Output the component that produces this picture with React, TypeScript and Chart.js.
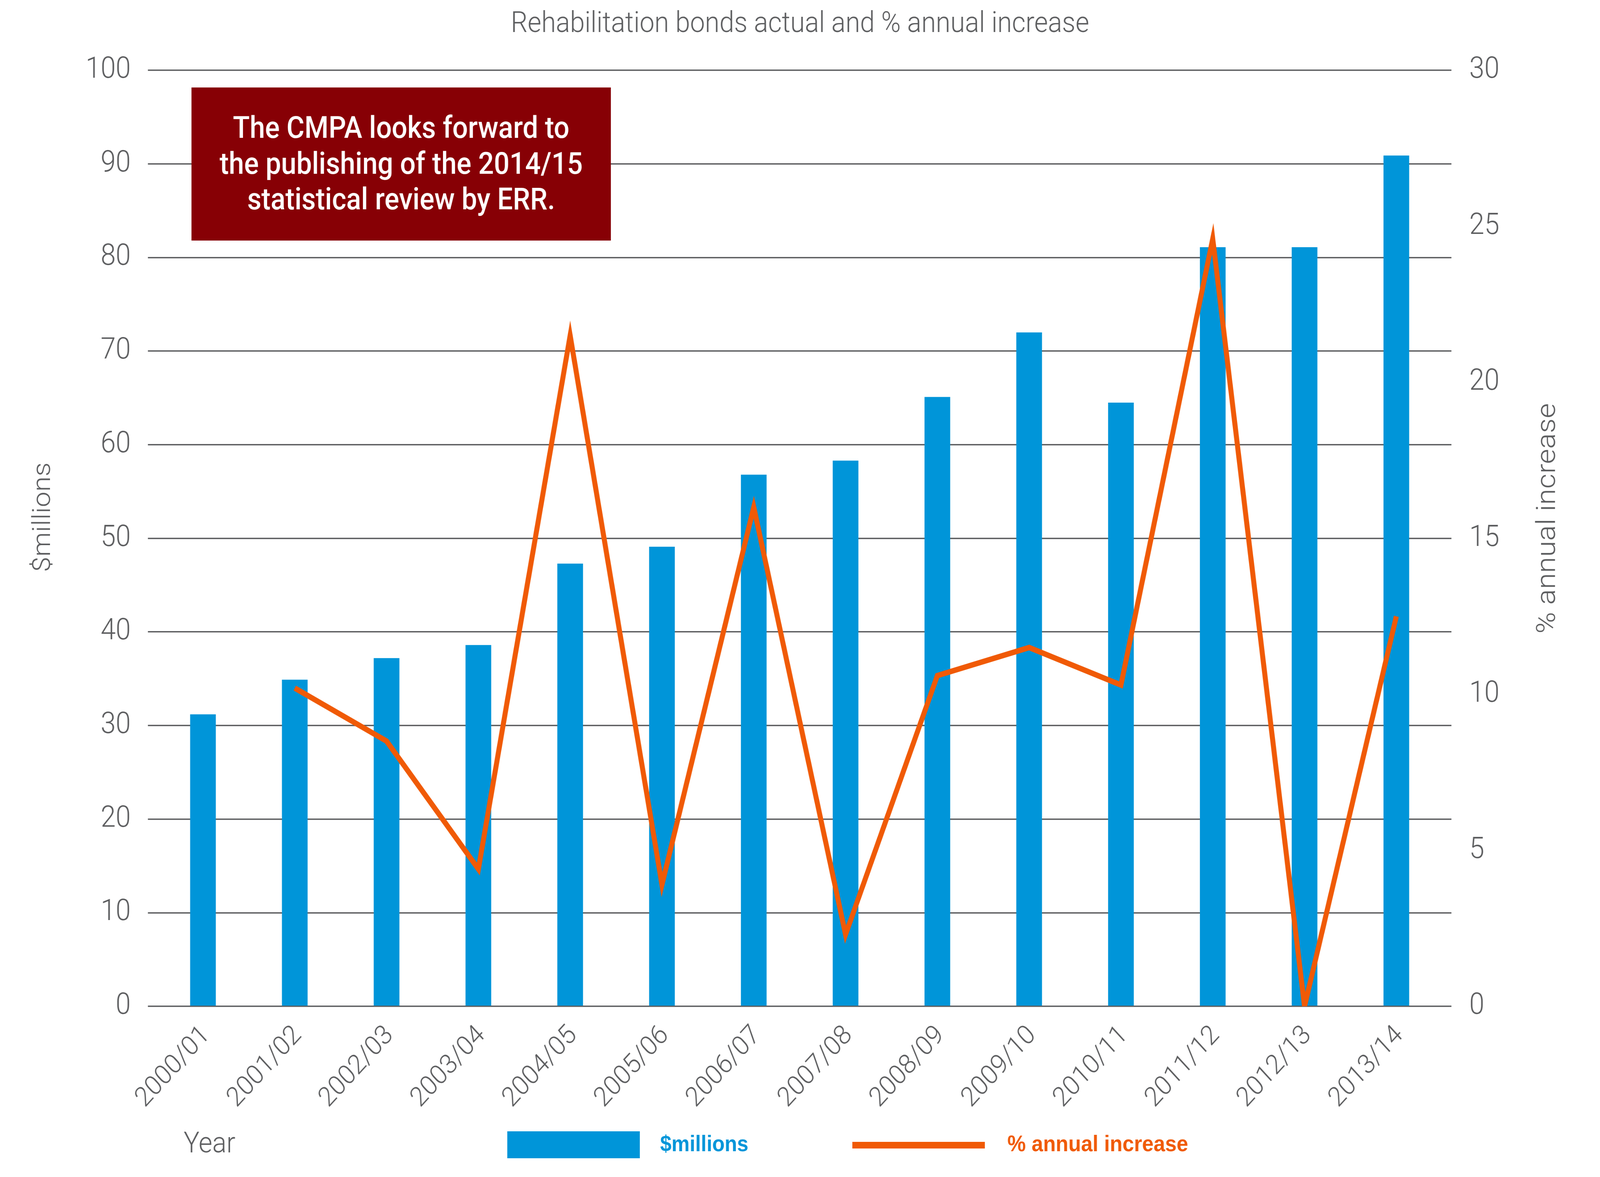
import React, { useEffect, useRef } from "react";
import { Chart, registerables } from "chart.js";

Chart.register(...registerables);

const CATEGORIES = [
  "2000/01", "2001/02", "2002/03", "2003/04", "2004/05", "2005/06", "2006/07",
  "2007/08", "2008/09", "2009/10", "2010/11", "2011/12", "2012/13", "2013/14",
];
const MILLIONS = [31.2, 34.9, 37.2, 38.6, 47.3, 49.1, 56.8, 58.3, 65.1, 72.0, 64.5, 81.1, 81.1, 90.9];
const ANNUAL_INCREASE: (number | null)[] = [null, 10.2, 8.5, 4.4, 21.5, 3.9, 16.0, 2.3, 10.6, 11.5, 10.3, 24.6, 0.0, 12.5];

const TITLE = "Rehabilitation bonds actual and % annual increase";
const LEFT_AXIS_TITLE = "$millions";
const RIGHT_AXIS_TITLE = "% annual increase";
const X_AXIS_TITLE = "Year";
const SERIES_BAR = "$millions";
const SERIES_LINE = "% annual increase";
const NOTE_LINES = [
  "The CMPA looks forward to",
  "the publishing of the 2014/15",
  "statistical review by ERR.",
];

const GRAY = "#5d5e60";
const BLUE = "#0095d9";
const ORANGE = "#f05a06";
const DARK_RED = "#870005";
const LIGHT_FONT = "Roboto";
const BOLD_FONT = "'Liberation Sans'";

const W = 4479;
const H = 3014;

const decorPlugin = {
  id: "decor",
  afterDraw(chart: any) {
    const ctx: CanvasRenderingContext2D = chart.ctx;
    const area = chart.chartArea;
    ctx.save();

    // Title
    ctx.fillStyle = GRAY;
    ctx.font = `300 74px ${LIGHT_FONT}`;
    ctx.textAlign = "center";
    ctx.textBaseline = "middle";
    ctx.fillText(TITLE, chart.width / 2, 63);

    // Axis titles
    const midY = (area.top + area.bottom) / 2 - 54;
    ctx.font = `300 71px ${LIGHT_FONT}`;
    ctx.save();
    ctx.translate(122, midY);
    ctx.rotate(-Math.PI / 2);
    ctx.fillText(LEFT_AXIS_TITLE, 0, 0);
    ctx.restore();

    ctx.font = `300 75px ${LIGHT_FONT}`;
    ctx.save();
    ctx.translate(4334, midY + 3);
    ctx.rotate(-Math.PI / 2);
    ctx.fillText(RIGHT_AXIS_TITLE, 0, 0);
    ctx.restore();

    // Note box
    ctx.fillStyle = DARK_RED;
    ctx.fillRect(536, 224, 1174, 392);
    ctx.fillStyle = "#ffffff";
    ctx.font = `500 77px ${LIGHT_FONT}`;
    ctx.textAlign = "center";
    ctx.textBaseline = "alphabetic";
    NOTE_LINES.forEach((t, i) => ctx.fillText(t, 1123, 353 + i * 91.5));

    // Legend row
    const ly = 2932;
    ctx.textBaseline = "middle";
    ctx.textAlign = "left";
    ctx.fillStyle = GRAY;
    ctx.font = `300 74px ${LIGHT_FONT}`;
    ctx.fillText(X_AXIS_TITLE, 514, ly);

    ctx.fillStyle = BLUE;
    ctx.fillRect(1420, 2897, 371, 69);
    ctx.font = `bold 57px ${BOLD_FONT}`;
    ctx.fillText(SERIES_BAR, 1848, ly);

    ctx.fillStyle = ORANGE;
    ctx.fillRect(2386, 2924, 371, 17);
    ctx.font = `bold 58px ${BOLD_FONT}`;
    ctx.fillText(SERIES_LINE, 2820, ly);

    ctx.restore();
  },
};

export default function App() {
  const canvasRef = useRef<HTMLCanvasElement | null>(null);

  useEffect(() => {
    document.body.style.margin = "0";
    document.body.style.overflow = "hidden";
    document.documentElement.style.overflow = "hidden";
    const canvas = canvasRef.current;
    if (!canvas) return;

    const barData = MILLIONS.map((v, i) => ({ x: i, y: v }));
    const lineData = ANNUAL_INCREASE.map((v, i) => ({ x: i, y: v }));

    const tickFont = { family: LIGHT_FONT, size: 76, weight: 300 as any };
    const xTickFont = { family: LIGHT_FONT, size: 70, weight: 300 as any };

    const chart = new Chart(canvas, {
      type: "bar",
      data: {
        datasets: [
          {
            type: "line",
            label: SERIES_LINE,
            data: lineData as any,
            yAxisID: "y1",
            borderColor: ORANGE,
            backgroundColor: ORANGE,
            borderWidth: 14,
            pointRadius: 0,
            tension: 0,
            borderJoinStyle: "miter",
            borderCapStyle: "butt",
            order: 0,
          },
          {
            type: "bar",
            label: SERIES_BAR,
            data: barData as any,
            yAxisID: "y",
            backgroundColor: BLUE,
            borderWidth: 0,
            barPercentage: 0.28,
            categoryPercentage: 1,
            order: 1,
          },
        ],
      },
      options: {
        responsive: false,
        animation: false,
        devicePixelRatio: 1,
        layout: { padding: { top: 180, left: 0, right: 0, bottom: 0 } },
        plugins: {
          legend: { display: false },
          title: { display: false },
          tooltip: { enabled: false },
        },
        scales: {
          x: {
            type: "linear",
            offset: false,
            min: -0.6,
            max: CATEGORIES.length - 1 + 0.6,
            grid: { display: false },
            border: { display: false },
            afterBuildTicks: (scale: any) => {
              scale.ticks = CATEGORIES.map((_, i) => ({ value: i }));
            },
            afterFit: (scale: any) => {
              scale.height = 437;
            },
            ticks: {
              autoSkip: false,
              minRotation: 45,
              maxRotation: 45,
              padding: 26,
              labelOffset: 9,
              color: GRAY,
              font: xTickFont,
              callback: (v: any) => CATEGORIES[Math.round(Number(v))] ?? "",
            },
          },
          y: {
            type: "linear",
            position: "left",
            min: 0,
            max: 100,
            grid: { color: GRAY, lineWidth: 3.5, drawTicks: false },
            border: { display: false },
            afterFit: (scale: any) => {
              scale.width = 414;
            },
            ticks: {
              stepSize: 10,
              padding: 48,
              color: GRAY,
              font: tickFont,
            },
          },
          y1: {
            type: "linear",
            position: "right",
            min: 0,
            max: 30,
            grid: { display: false, drawTicks: false },
            border: { display: false },
            afterFit: (scale: any) => {
              scale.width = 416;
            },
            ticks: {
              stepSize: 5,
              padding: 50,
              color: GRAY,
              font: tickFont,
            },
          },
        },
      },
      plugins: [decorPlugin],
    });

    return () => chart.destroy();
  }, []);

  return (
    <div style={{ width: "100vw", height: "100vh", background: "#ffffff", overflow: "hidden" }}>
      <canvas
        ref={canvasRef}
        width={W}
        height={H}
        style={{ width: "100vw", height: "100vh", display: "block" }}
      />
    </div>
  );
}
